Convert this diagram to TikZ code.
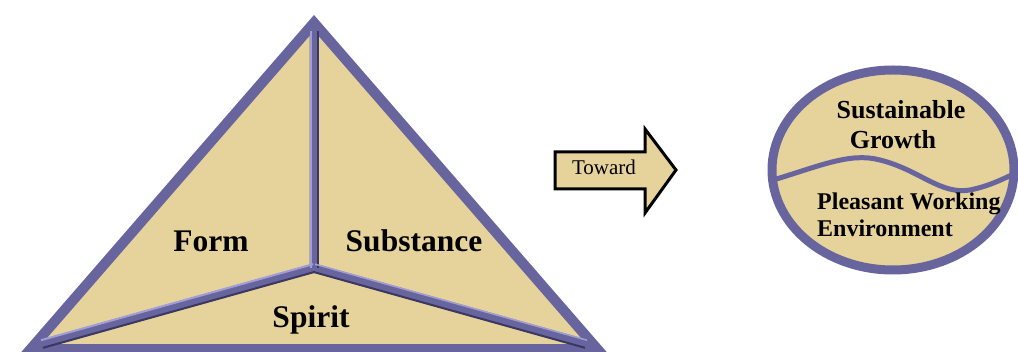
\documentclass[tikz,border=0pt]{standalone}
\usepackage{fontspec}
\setmainfont{Liberation Serif}
\usetikzlibrary{positioning}
\definecolor{trpurple}{RGB}{104,101,158}
\definecolor{trbeige}{RGB}{230,210,155}
\definecolor{trlight}{RGB}{160,158,212}
\definecolor{trdark}{RGB}{58,56,98}

\begin{document}
\begin{tikzpicture}[x=1pt,y=-1pt,every node/.style={inner sep=0pt,anchor=base},
    bigword/.style={font=\bfseries\fontsize{31.5}{36}\selectfont},
    goalword/.style={font=\bfseries\fontsize{26}{28}\selectfont},
    divider/.style={trpurple,line width=9pt}]
      \useasboundingbox (0,0) rectangle (1018,352);
      % Triangle
      \fill[trpurple] (314,15) -- (17,357) -- (611,357) -- cycle;
      \fill[trbeige] (314,31) coordinate (apex) -- (42,344) coordinate (bl)
        -- (586,344) coordinate (br) -- cycle;
      \coordinate (mid) at (314,268);
      % Dividers
      \draw[divider] (apex) -- (mid) -- (bl);
      \draw[divider] (mid) -- (br);
      \draw[trlight,line width=2pt,transform canvas={shift={(-3.5,0)}}] (apex) -- (mid);
      \draw[trdark,line width=2pt,transform canvas={shift={(4,0)}}] (apex) -- (mid);
      \draw[trlight,line width=2pt,transform canvas={shift={(-1,-3.8)}}] (mid) -- (bl);
      \draw[trdark,line width=2pt,transform canvas={shift={(1,3.8)}}] (mid) -- (bl);
      \draw[trlight,line width=1.5pt,transform canvas={shift={(1,-3.8)}}] (mid) -- (br);
      \draw[trdark,line width=2pt,transform canvas={shift={(-1,3.8)}}] (mid) -- (br);
      \node[bigword] (form) at (211,252) {Form};
      \node[bigword] (substance) at (414,252) {Substance};
      \node[bigword] (spirit) at (311,328) {Spirit};
      % Arrow
      \draw[fill=trbeige,line width=3pt,line join=miter]
        (555,152) -- (645,152) -- (645,129) -- (676,170) -- (645,213)
        -- (645,189) -- (555,189) -- cycle;
      \node[font=\fontsize{21}{24}\selectfont] (toward) at (604,175) {Toward};
      % Goal ellipse
      \draw[trpurple,line width=9pt,fill=trbeige] (893,170) ellipse [x radius=121,y radius=100];
      \begin{scope}
        \clip (893,170) ellipse [x radius=117,y radius=96];
        \draw[trpurple,line width=5pt] (770,181) .. controls (820,166) and (850,152) .. (880,160)
          .. controls (920,170) and (940,195) .. (970,190)
          .. controls (990,186) and (1005,178) .. (1022,170);
      \end{scope}
      \node[goalword] (sustainable) at (901,119) {Sustainable};
      \node[goalword] (growth) at (893,149) {Growth};
      \node[goalword,font=\bfseries\fontsize{24}{26}\selectfont,anchor=base west] (pleasant) at (817,210) {Pleasant Working};
      \node[goalword,font=\bfseries\fontsize{24}{26}\selectfont,anchor=base west] (environment) at (817,237) {Environment};
    \end{tikzpicture}
\end{document}
